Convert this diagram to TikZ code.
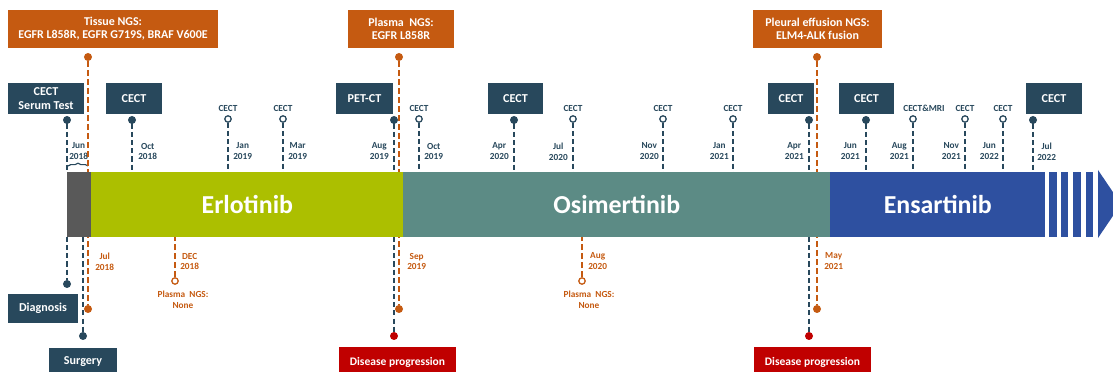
\documentclass[tikz,border=0pt]{standalone}
\usepackage{fontspec}
\setmainfont{Carlito}
\usetikzlibrary{decorations.pathreplacing}
\definecolor{tlnavy}{RGB}{40,72,92}
\definecolor{tlorange}{RGB}{197,90,17}
\definecolor{tlgreen}{RGB}{172,191,0}
\definecolor{tlteal}{RGB}{92,139,133}
\definecolor{tlblue}{RGB}{46,80,160}
\definecolor{tlgray}{RGB}{89,89,89}
\definecolor{tlred}{RGB}{192,0,0}

\begin{document}
\begin{tikzpicture}[
    x=0.025cm, y=-0.025cm,
    every node/.style={font=\bfseries},
    navybox/.style={rectangle, fill=tlnavy, text=white, minimum height=0.775cm, inner sep=1pt, align=center, font=\fontsize{8.6}{10}\selectfont\bfseries},
    ngsbox/.style={rectangle, fill=tlorange, text=white, minimum height=0.95cm, inner sep=1pt, align=center, font=\fontsize{8.5}{9.2}\selectfont\bfseries},
    redbox/.style={rectangle, fill=tlred, text=white, minimum width=2.925cm, minimum height=0.75cm, inner sep=1pt, font=\fontsize{8.2}{10}\selectfont\bfseries},
    navydot/.style={circle, fill=tlnavy, minimum size=0.2cm, inner sep=0pt},
    orangedot/.style={navydot, fill=tlorange},
    reddot/.style={navydot, fill=tlred},
    opendot/.style={circle, draw=tlnavy, fill=white, line width=0.9pt, minimum size=0.16cm, inner sep=0pt},
    orangeopen/.style={opendot, draw=tlorange},
    stem/.style={tlnavy, line width=1.8pt},
    navydash/.style={tlnavy, line width=1.8pt, dash pattern=on 3.6pt off 2.2pt},
    orangedash/.style={tlorange, line width=1.8pt, dash pattern=on 4.2pt off 2.2pt},
    cectlbl/.style={text=tlnavy, inner sep=0pt, font=\fontsize{6.6}{8}\selectfont\bfseries},
    datelbl/.style={text=tlnavy, align=center, inner sep=0pt, font=\fontsize{6.6}{7.8}\selectfont\bfseries},
    odatelbl/.style={datelbl, text=tlorange},
    phase/.style={rectangle, inner sep=0pt, minimum height=1.625cm, anchor=north west, text=white, font=\fontsize{18.4}{20}\selectfont\bfseries},
]
\useasboundingbox (0,0) rectangle (1113,372);
\clip (0,0) rectangle (1113,372);

\coordinate (bartop) at (0,172);
\coordinate (barbot) at (0,237);

% NGS results on top
\node[ngsbox, minimum width=5.25cm] (tissue) at (113,29) {Tissue NGS:\\EGFR L858R, EGFR G719S, BRAF V600E};
\node[ngsbox, minimum width=2.65cm] (plasma) at (401,29) {Plasma~~NGS:\\EGFR L858R};
\node[ngsbox, minimum width=3.225cm] (pleural) at (817.5,29) {Pleural effusion NGS:\\ELM4-ALK fusion};
\node[orangedot] (dtissue) at (88,57) {};
\node[orangedot] (dplasma) at (399,57) {};
\node[orangedot] (dpleural) at (817,57) {};
\node[orangedot] (dsurgon) at (88,309) {};
\node[orangedot] (dosimon) at (399,309) {};
\node[orangedot] (densaon) at (817,309) {};

% imaging boxes
\node[navybox, minimum width=1.9cm] (serum) at (46,98.5) {CECT\\Serum Test};
\node[navybox, minimum width=1.4cm] (cect1) at (134,98.5) {CECT};
\node[navybox, minimum width=1.425cm] (petct) at (364.5,99) {PET-CT};
\node[navybox, minimum width=1.375cm] (cect2) at (515.5,98.5) {CECT};
\node[navybox, minimum width=1.15cm] (cect3) at (791,99) {CECT};
\node[navybox, minimum width=1.375cm] (cect4) at (866.5,98.5) {CECT};
\node[navybox, minimum width=1.4cm] (cect5) at (1054,98.5) {CECT};
\node[navydot] (dserum) at (67,120) {};
\node[navydot] (dcect1) at (132,120) {};
\node[navydot] (dpetct) at (394,120) {};
\node[navydot] (dcect2) at (514,120) {};
\node[navydot] (dcect3) at (809,120) {};
\node[navydot] (dcect4) at (866,120) {};
\node[navydot] (dcect5) at (1033,120) {};

% small CECT marks
\node[opendot] (ojan19) at (228,119) {};
\node[opendot] (omar19) at (283,119) {};
\node[opendot] (ooct19) at (419,119) {};
\node[opendot] (ojul20) at (573,119) {};
\node[opendot] (onov20) at (663,119) {};
\node[opendot] (ojan21) at (733,119) {};
\node[opendot] (oaug21) at (913,119) {};
\node[opendot] (onov21) at (965,119) {};
\node[opendot] (ojun22) at (1003,119) {};
\node[cectlbl] (ljan19) at (228,108) {CECT};
\node[cectlbl] (lmar19) at (283,108) {CECT};
\node[cectlbl] (loct19) at (419,108) {CECT};
\node[cectlbl] (ljul20) at (573,108) {CECT};
\node[cectlbl] (lnov20) at (663,108) {CECT};
\node[cectlbl] (ljan21) at (733,108) {CECT};
\node[cectlbl] (laug21) at (924,108) {CECT\&MRI};
\node[cectlbl] (lnov21) at (965,108) {CECT};
\node[cectlbl] (ljun22) at (1003,108) {CECT};

% dates above the bar
\node[datelbl, anchor=west] (tjun18) at (69,151.5) {Jun\\2018};
\node[datelbl, anchor=west] (toct18) at (138,151.5) {Oct\\2018};
\node[datelbl, anchor=west] (tjan19) at (233,151.5) {Jan\\2019};
\node[datelbl, anchor=west] (tmar19) at (288,151.5) {Mar\\2019};
\node[datelbl, anchor=east] (taug19) at (389,151.5) {Aug\\2019};
\node[datelbl, anchor=west] (toct19) at (424,151.5) {Oct\\2019};
\node[datelbl, anchor=east] (tapr20) at (509,151.5) {Apr\\2020};
\node[datelbl, anchor=east] (tjul20) at (568,151.5) {Jul\\2020};
\node[datelbl, anchor=east] (tnov20) at (659,151.5) {Nov\\2020};
\node[datelbl, anchor=east] (tjan21) at (729,151.5) {Jan\\2021};
\node[datelbl, anchor=east] (tapr21) at (804,151.5) {Apr\\2021};
\node[datelbl, anchor=east] (tjun21) at (860,151.5) {Jun\\2021};
\node[datelbl, anchor=east] (taug21) at (909,151.5) {Aug\\2021};
\node[datelbl, anchor=east] (tnov21) at (961,151.5) {Nov\\2021};
\node[datelbl, anchor=east] (tjun22) at (999,151.5) {Jun\\2022};
\node[datelbl, anchor=west] (tjul22) at (1037,151.5) {Jul\\2022};
\draw[tlnavy, line width=0.8pt, decorate, decoration={brace, amplitude=2pt}] (68,166) -- (88,166);

% events below the bar
\node[navydot] (ddiag) at (67,284) {};
\node[navybox, minimum width=1.75cm, minimum height=0.725cm] (diag) at (43,308.5) {Diagnosis};
\node[navydot] (dsurg) at (83,336) {};
\node[navybox, minimum width=1.7cm, minimum height=0.7cm] (surg) at (83,362) {Surgery};
\node[reddot] (dprog1) at (394,336) {};
\node[redbox] (prog1) at (397.5,362) {Disease progression};
\node[reddot] (dprog2) at (809,336) {};
\node[redbox] (prog2) at (812.5,362) {Disease progression};
\node[orangeopen] (odec18) at (175,281) {};
\node[orangeopen] (oaug20) at (582,281) {};
\node[odatelbl] (pdec18) at (183,300) {Plasma~~NGS:\\None};
\node[odatelbl] (paug20) at (589,300) {Plasma~~NGS:\\None};
\node[odatelbl, anchor=west] (tjul18) at (95,261.5) {Jul\\2018};
\node[odatelbl, anchor=west] (tdec18) at (180,261.5) {DEC\\2018};
\node[odatelbl, anchor=west] (tsep19) at (407,261.5) {Sep\\2019};
\node[odatelbl, anchor=west] (taug20) at (588,261.5) {Aug\\2020};
\node[odatelbl, anchor=west] (tmay21) at (824,261.5) {May\\2021};

% connectors
\draw[orangedash] (dtissue.south) -- (dsurgon.north);
\draw[orangedash] (dplasma.south) -- (dosimon.north);
\draw[orangedash] (dpleural.south) -- (densaon.north);
\draw[orangedash] (odec18.north) -- (odec18 |- barbot);
\draw[orangedash] (oaug20.north) -- (oaug20 |- barbot);
\draw[stem] (dserum.center) -- ++(0,9);
\draw[stem] (dcect1.center) -- ++(0,9);
\draw[stem] (dpetct.center) -- ++(0,9);
\draw[stem] (dcect2.center) -- ++(0,9);
\draw[stem] (dcect3.center) -- ++(0,9);
\draw[stem] (dcect4.center) -- ++(0,9);
\draw[stem] (dcect5.center) -- ++(0,9);
\draw[navydash] (dserum) ++(0,12) -- (dserum |- bartop);
\draw[navydash] (dcect1) ++(0,12) -- (dcect1 |- bartop);
\draw[navydash] (dpetct) ++(0,12) -- (dpetct |- bartop);
\draw[navydash] (dcect2) ++(0,12) -- (dcect2 |- bartop);
\draw[navydash] (dcect3) ++(0,12) -- (dcect3 |- bartop);
\draw[navydash] (dcect4) ++(0,12) -- (dcect4 |- bartop);
\draw[navydash] (dcect5) ++(0,12) -- (dcect5 |- bartop);
\draw[stem] (ojan19.south) -- ++(0,5);
\draw[stem] (omar19.south) -- ++(0,5);
\draw[stem] (ooct19.south) -- ++(0,5);
\draw[stem] (ojul20.south) -- ++(0,5);
\draw[stem] (onov20.south) -- ++(0,5);
\draw[stem] (ojan21.south) -- ++(0,5);
\draw[stem] (oaug21.south) -- ++(0,5);
\draw[stem] (onov21.south) -- ++(0,5);
\draw[stem] (ojun22.south) -- ++(0,5);
\draw[navydash] (ojan19) ++(0,12) -- (ojan19 |- bartop);
\draw[navydash] (omar19) ++(0,12) -- (omar19 |- bartop);
\draw[navydash] (ooct19) ++(0,12) -- (ooct19 |- bartop);
\draw[navydash] (ojul20) ++(0,12) -- (ojul20 |- bartop);
\draw[navydash] (onov20) ++(0,12) -- (onov20 |- bartop);
\draw[navydash] (ojan21) ++(0,12) -- (ojan21 |- bartop);
\draw[navydash] (oaug21) ++(0,12) -- (oaug21 |- bartop);
\draw[navydash] (onov21) ++(0,12) -- (onov21 |- bartop);
\draw[navydash] (ojun22) ++(0,12) -- (ojun22 |- bartop);
\draw[navydash] (ddiag |- barbot) -- (ddiag.north);
\draw[navydash] (dsurg |- barbot) -- (dsurg.north);
\draw[navydash] (dprog1 |- barbot) -- (dprog1.north);
\draw[navydash] (dprog2 |- barbot) -- (dprog2.north);

% treatment bar
\node[phase, fill=tlgray, minimum width=0.6cm] (pre) at (67,172) {};
\node[phase, fill=tlgreen, minimum width=7.8cm] (erlo) at (91,172) {Erlotinib};
\node[phase, fill=tlteal, minimum width=10.675cm] (osim) at (403,172) {Osimertinib};
\node[phase, fill=tlblue, minimum width=5.375cm] (ensa) at (830,172) {Ensartinib};
\fill[tlblue] (1049,172) rectangle (1057,237);
\fill[tlblue] (1061,172) rectangle (1068,237);
\fill[tlblue] (1073,172) rectangle (1081,237);
\fill[tlblue] (1086,172) rectangle (1093,237);
\fill[tlblue] (1098,170) -- (1121,204) -- (1098,238) -- cycle;

\end{tikzpicture}
\end{document}
